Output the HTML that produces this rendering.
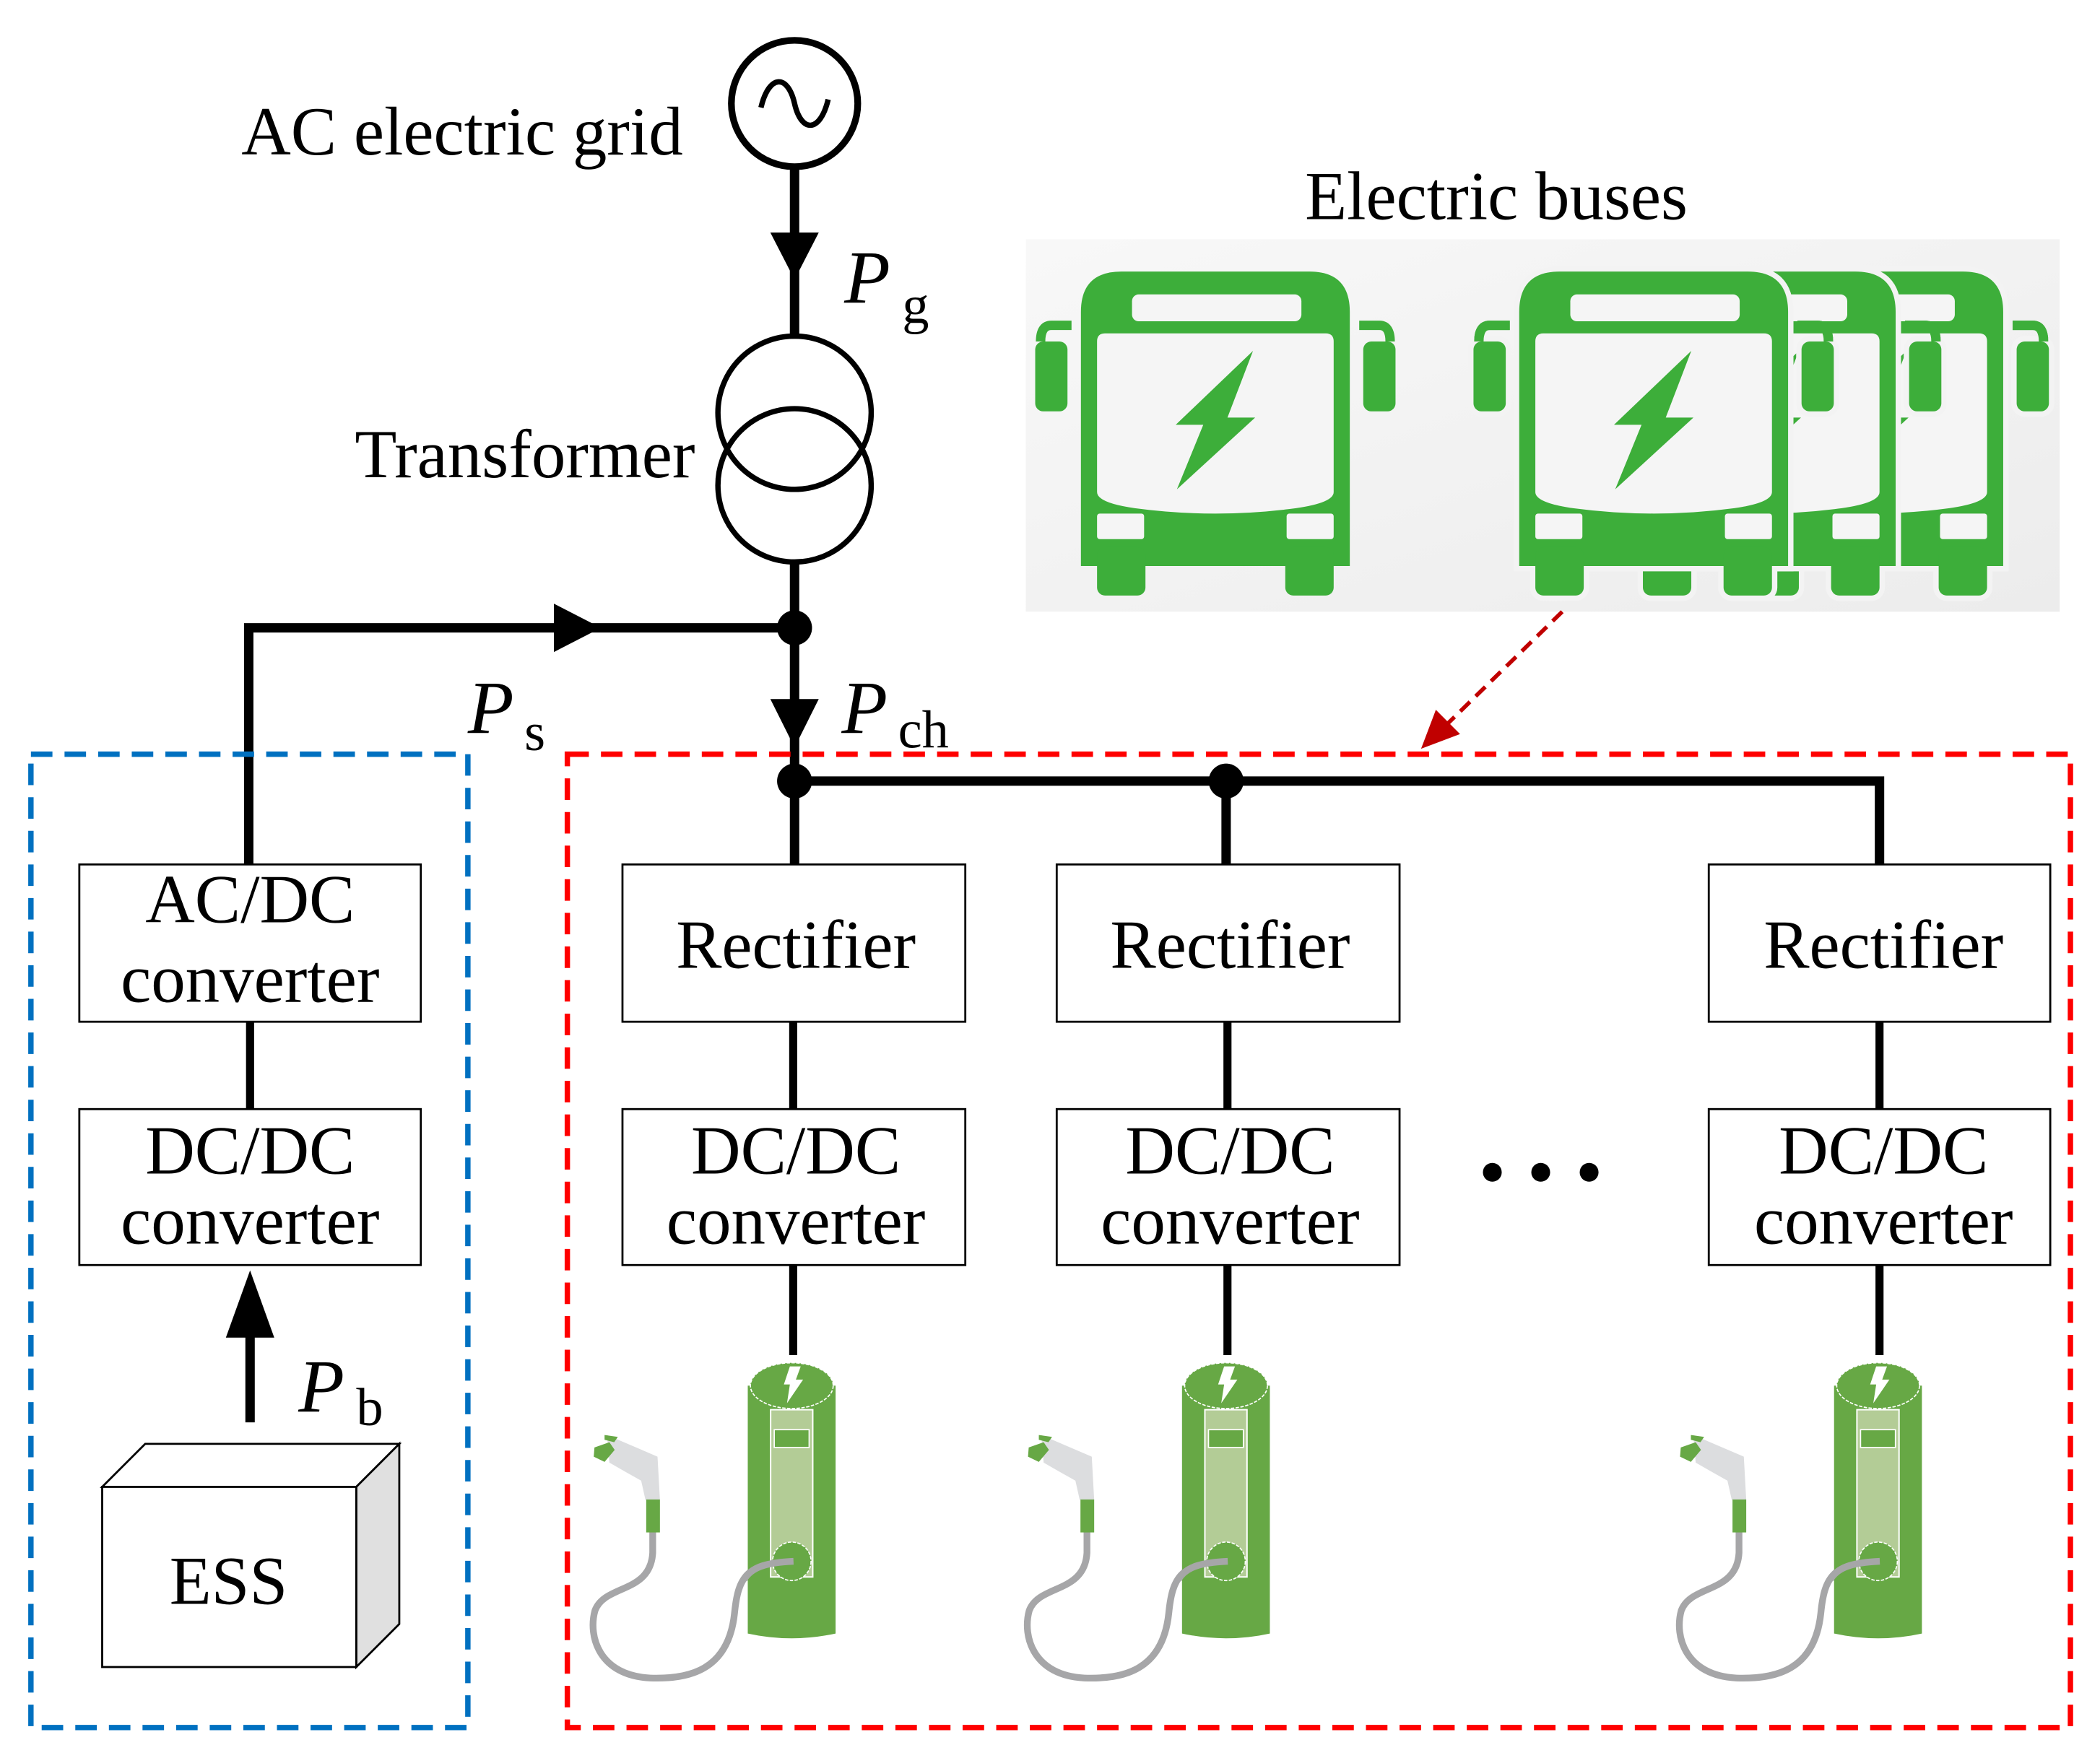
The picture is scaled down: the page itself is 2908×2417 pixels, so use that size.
<!DOCTYPE html>
<html><head><meta charset="utf-8"><style>
html,body{margin:0;padding:0;background:#fff}
svg{display:block}
text{font-family:"Liberation Serif",serif;fill:#000}
</style></head><body>
<svg width="2908" height="2417" viewBox="0 0 1562 1298" preserveAspectRatio="none" xmlns="http://www.w3.org/2000/svg">
<defs>
<linearGradient id="bg" x1="0" y1="0" x2="1" y2="1"><stop offset="0" stop-color="#f8f8f8"/><stop offset="1" stop-color="#ececec"/></linearGradient>
<g id="bus">
  <path d="M-7 40 H-22 Q-30 40 -30 52" fill="none" stroke="#3dae3a" stroke-width="7"/>
  <path d="M207 40 H222 Q230 40 230 52" fill="none" stroke="#3dae3a" stroke-width="7"/>
  <rect x="-34" y="52" width="24" height="52" rx="6" fill="#3dae3a"/>
  <rect x="210" y="52" width="24" height="52" rx="6" fill="#3dae3a"/>
  <path d="M0 30 Q0 0 30 0 H170 Q200 0 200 30 V219 H0 Z" fill="#3dae3a"/>
  <rect x="12" y="205" width="36" height="36" rx="6" fill="#3dae3a"/>
  <rect x="152" y="205" width="36" height="36" rx="6" fill="#3dae3a"/>
  <rect x="38" y="17" width="126" height="20" rx="5" fill="#f5f5f5"/>
  <path d="M12 52 Q12 46 18 46 H182 Q188 46 188 52 V164 Q188 172 160 176 Q100 184 40 176 Q12 172 12 164 Z" fill="#f5f5f5"/>
  <rect x="12" y="180" width="35" height="19" rx="2" fill="#f5f5f5"/>
  <rect x="153" y="180" width="35" height="19" rx="2" fill="#f5f5f5"/>
  <polygon points="128,59 70.5,114 91,114 71.4,162 129.6,108.6 109,108.6" fill="#3dae3a"/>
</g>
<g id="chg">
  <g transform="scale(0.179)">
    <path d="M895 935 C 700 940 665 1000 650 1150 C 625 1390 460 1425 300 1420 C 90 1410 40 1250 70 1140 C 110 1030 300 1070 310 900 L 310 810" fill="none" stroke="#a6a6a8" stroke-width="28"/>
    <polygon points="120,410 330,500 340,680 280,680 262,600 200,565 130,525" fill="#dcdddf"/>
    <rect x="283" y="678" width="57" height="137" fill="#67a845"/>
    <polygon points="68,462 130,440 152,472 110,522 65,500" fill="#67a845"/>
    <polygon points="110,410 165,418 150,440 110,430" fill="#67a845"/>
    <path d="M705 205 V1235 Q888 1275 1070 1235 V205 Z" fill="#67a845"/>
    <ellipse cx="888" cy="205" rx="172" ry="95" fill="#67a845" stroke="#fff" stroke-width="5" stroke-dasharray="14 6"/>
    <rect x="800" y="305" width="175" height="695" fill="#b3cc96" stroke="#fff" stroke-width="6"/>
    <rect x="815" y="388" width="145" height="74" fill="#67a845" stroke="#fff" stroke-width="5"/>
    <circle cx="888" cy="935" r="80" fill="#67a845" stroke="#fff" stroke-width="5" stroke-dasharray="14 6"/>
    <path d="M895 935 C 780 940 720 960 690 1010" fill="none" stroke="#a6a6a8" stroke-width="28"/>
    <polygon points="880,125 925,125 905,180 935,180 868,278 880,200 855,200" fill="#fff"/>
  </g>
</g>
</defs>

<!-- AC grid -->
<circle cx="591" cy="77" r="47" fill="none" stroke="#000" stroke-width="5"/>
<path d="M566 80 C 572 55 586 55 591 77 C 596 99 610 99 616 74" fill="none" stroke="#000" stroke-width="4"/>
<text x="508" y="115" font-size="51" text-anchor="end">AC electric grid</text>
<line x1="591" y1="124" x2="591" y2="252" stroke="#000" stroke-width="7"/>
<polygon points="573,173 609,173 591,208" fill="#000"/>
<text x="628" y="225" font-size="56" font-style="italic">P</text><text x="671" y="240" font-size="40">g</text>

<!-- transformer -->
<circle cx="591" cy="307" r="57" fill="none" stroke="#000" stroke-width="4"/>
<circle cx="591" cy="361" r="57" fill="none" stroke="#000" stroke-width="4"/>
<text x="517" y="355" font-size="51" text-anchor="end">Transformer</text>
<line x1="591" y1="418" x2="591" y2="643" stroke="#000" stroke-width="7"/>
<circle cx="591" cy="467" r="13" fill="#000"/>
<polygon points="573,520 609,520 591,556" fill="#000"/>
<circle cx="591" cy="581" r="13" fill="#000"/>
<polyline points="185,643 185,467 591,467" fill="none" stroke="#000" stroke-width="7"/>
<polygon points="412,449 412,485 447,467" fill="#000"/>
<text x="348" y="545" font-size="56" font-style="italic">P</text><text x="390" y="558" font-size="40">s</text>
<text x="626" y="545" font-size="56" font-style="italic">P</text><text x="668" y="556" font-size="40">ch</text>

<!-- bus line -->
<polyline points="591,581 1398,581 1398,643" fill="none" stroke="#000" stroke-width="7"/>
<circle cx="912" cy="581" r="13" fill="#000"/>
<line x1="912" y1="581" x2="912" y2="643" stroke="#000" stroke-width="7"/>

<!-- dashed regions -->
<rect x="23" y="561" width="325" height="724" fill="none" stroke="#0070c0" stroke-width="4" stroke-dasharray="16 9"/>
<rect x="422" y="561" width="1118" height="724" fill="none" stroke="#ff0000" stroke-width="4" stroke-dasharray="16 9"/>

<!-- buses -->
<rect x="763" y="178" width="769" height="277" fill="url(#bg)"/>
<use href="#bus" x="1290" y="202" stroke="#f3f3f3" stroke-width="8"/>
<use href="#bus" x="1290" y="202"/>
<use href="#bus" x="1210" y="202" stroke="#f3f3f3" stroke-width="8"/>
<use href="#bus" x="1210" y="202"/>
<use href="#bus" x="1130" y="202" stroke="#f3f3f3" stroke-width="8"/>
<use href="#bus" x="1130" y="202"/>
<use href="#bus" x="804" y="202"/>
<text x="1113" y="163" font-size="51" text-anchor="middle">Electric buses</text>
<line x1="1162" y1="455" x2="1075" y2="540" stroke="#c00000" stroke-width="3" stroke-dasharray="10 6"/>
<polygon points="1057,557 1068,528 1086,546" fill="#c00000"/>

<!-- boxes -->
<g fill="#fff" stroke="#000" stroke-width="1.5">
<rect x="59" y="643" width="254" height="117"/>
<rect x="59" y="825" width="254" height="116"/>
<rect x="463" y="643" width="255" height="117"/>
<rect x="463" y="825" width="255" height="116"/>
<rect x="786" y="643" width="255" height="117"/>
<rect x="786" y="825" width="255" height="116"/>
<rect x="1271" y="643" width="254" height="117"/>
<rect x="1271" y="825" width="254" height="116"/>
</g>
<g stroke="#000" stroke-width="6">
<line x1="186" y1="760" x2="186" y2="825"/>
<line x1="590" y1="760" x2="590" y2="825"/>
<line x1="913" y1="760" x2="913" y2="825"/>
<line x1="1398" y1="760" x2="1398" y2="825"/>
<line x1="590" y1="941" x2="590" y2="1008"/>
<line x1="913" y1="941" x2="913" y2="1008"/>
<line x1="1398" y1="941" x2="1398" y2="1008"/>
<line x1="186" y1="990" x2="186" y2="1058" stroke-width="7"/>
</g>
<polygon points="168,995 204,995 186,945" fill="#000"/>
<text x="222" y="1050" font-size="56" font-style="italic">P</text><text x="265" y="1060" font-size="40">b</text>

<g font-size="51" text-anchor="middle">
<text x="186" y="686">AC/DC</text><text x="186" y="745">converter</text>
<text x="186" y="873">DC/DC</text><text x="186" y="925">converter</text>
<text x="592" y="720">Rectifier</text>
<text x="592" y="873">DC/DC</text><text x="592" y="925">converter</text>
<text x="915" y="720">Rectifier</text>
<text x="915" y="873">DC/DC</text><text x="915" y="925">converter</text>
<text x="1401" y="720">Rectifier</text>
<text x="1401" y="873">DC/DC</text><text x="1401" y="925">converter</text>
</g>

<!-- ESS -->
<polygon points="76,1106 108,1074 297,1074 265,1106" fill="#fff" stroke="#000" stroke-width="1.5"/>
<polygon points="265,1106 297,1074 297,1208 265,1240" fill="#e0e0e0" stroke="#000" stroke-width="1.5"/>
<rect x="76" y="1106" width="189" height="134" fill="#fff" stroke="#000" stroke-width="1.5"/>
<text x="170" y="1193" font-size="51" text-anchor="middle">ESS</text>

<!-- dots -->
<circle cx="1110" cy="872" r="7" fill="#000"/>
<circle cx="1146" cy="872" r="7" fill="#000"/>
<circle cx="1182" cy="872" r="7" fill="#000"/>

<!-- chargers -->
<use href="#chg" x="430" y="994"/>
<use href="#chg" x="753" y="994"/>
<use href="#chg" x="1238" y="994"/>
</svg>
</body></html>
